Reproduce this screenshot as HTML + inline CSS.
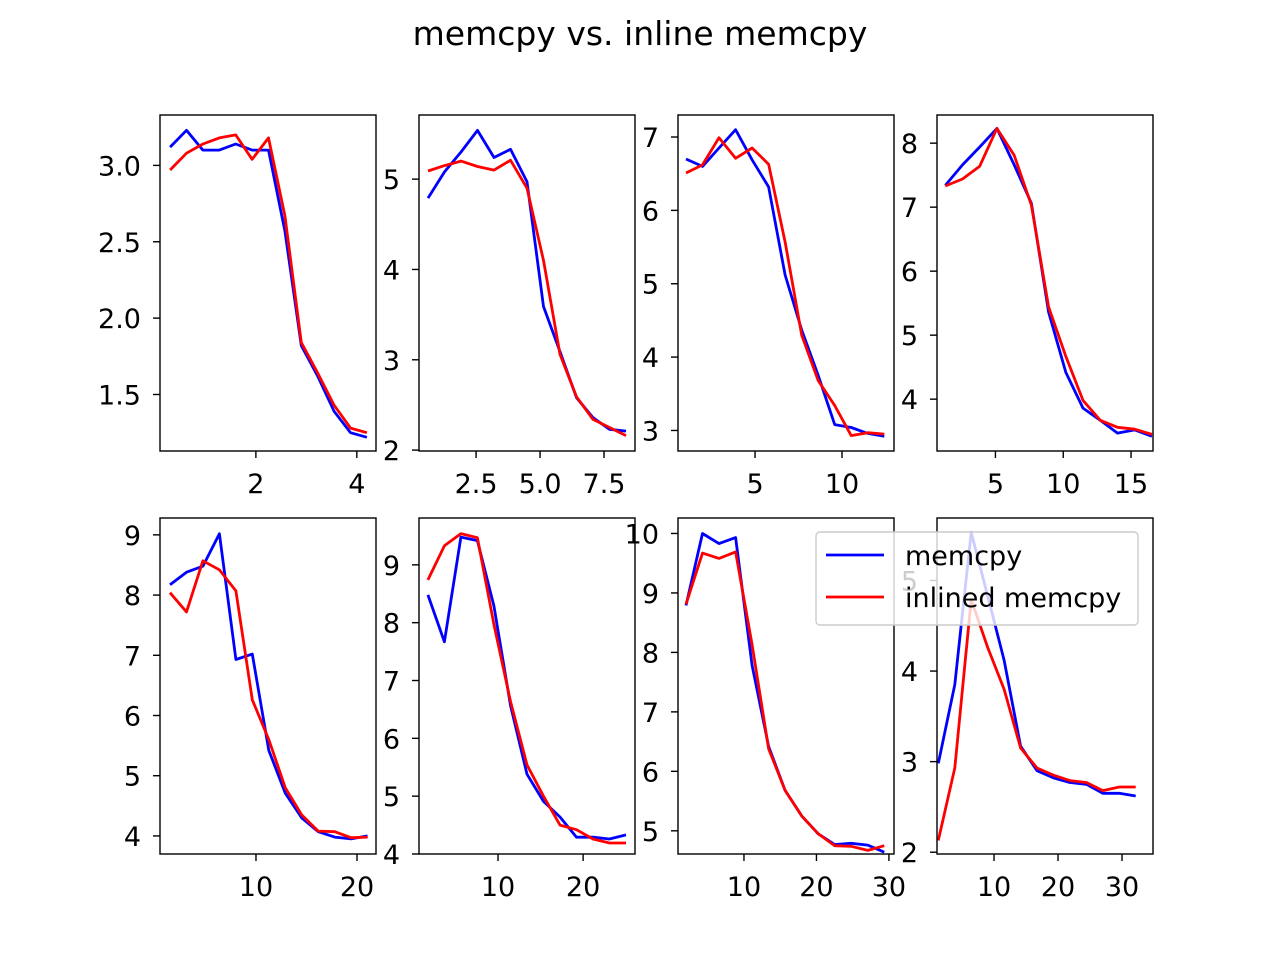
<!DOCTYPE html>
<html><head><meta charset="utf-8"><style>
body{margin:0;background:#fff;}
svg{display:block;font-family:"DejaVu Sans","Liberation Sans",sans-serif;}
</style></head><body>
<svg id="fig" width="1280" height="960" viewBox="0 0 1280 960">
<rect width="1280" height="960" fill="#fff"/>
<text x="640" y="45" text-anchor="middle" font-size="33">memcpy vs. inline memcpy</text>
</svg>
<script>
const xs1=[0.3,0.625,0.95,1.275,1.6,1.925,2.25,2.575,2.9,3.225,3.55,3.875,4.2];
const b1=[3.12,3.23,3.10,3.10,3.14,3.10,3.10,2.57,1.82,1.62,1.39,1.25,1.22];
const r1=[2.97,3.08,3.14,3.18,3.20,3.04,3.18,2.67,1.84,1.64,1.43,1.28,1.25];
const xs2=[0.62,1.265,1.91,2.555,3.2,3.845,4.49,5.135,5.78,6.425,7.07,7.715,8.36];
const b2=[4.79,5.08,5.30,5.54,5.24,5.33,4.97,3.59,3.09,2.58,2.36,2.23,2.21];
const r2=[5.09,5.15,5.20,5.14,5.10,5.21,4.90,4.10,3.06,2.59,2.34,2.25,2.16];
const xs3=[1.03,1.98,2.93,3.88,4.83,5.78,6.73,7.68,8.63,9.58,10.53,11.48,12.43];
const b3=[6.70,6.60,6.85,7.10,6.69,6.32,5.12,4.37,3.75,3.08,3.04,2.96,2.92];
const r3=[6.51,6.62,6.99,6.71,6.85,6.63,5.57,4.30,3.68,3.34,2.93,2.97,2.95];
const xs4=[1.3,2.57,3.84,5.11,6.38,7.65,8.92,10.19,11.46,12.73,14.0,15.27,16.54];
const b4=[7.34,7.66,7.94,8.23,7.66,7.06,5.36,4.42,3.86,3.67,3.47,3.52,3.42];
const r4=[7.33,7.44,7.64,8.23,7.81,7.03,5.44,4.67,3.98,3.67,3.56,3.53,3.45];
const xs5=[1.49,3.12,4.75,6.38,8.01,9.64,11.27,12.9,14.53,16.16,17.79,19.42,21.05];
const b5=[8.17,8.38,8.48,9.02,6.93,7.02,5.42,4.71,4.30,4.07,3.98,3.95,4.00];
const r5=[8.04,7.72,8.57,8.42,8.07,6.26,5.60,4.80,4.35,4.08,4.07,3.97,3.98];
const xs6=[1.76,3.7,5.64,7.58,9.52,11.46,13.4,15.34,17.28,19.22,21.16,23.1,25.04];
const b6=[8.48,7.67,9.48,9.42,8.29,6.57,5.38,4.91,4.64,4.29,4.29,4.26,4.33];
const r6=[8.74,9.33,9.54,9.47,7.97,6.64,5.54,5.00,4.50,4.42,4.26,4.19,4.19];
const xs7=[2.0,4.28,6.56,8.84,11.12,13.4,15.68,17.96,20.24,22.52,24.8,27.08,29.36];
const b7=[8.79,10.0,9.83,9.93,7.78,6.42,5.68,5.25,4.95,4.77,4.79,4.76,4.64];
const r7=[8.81,9.67,9.58,9.69,8.13,6.38,5.68,5.25,4.95,4.75,4.74,4.67,4.75];
const xs8=[1.3,3.87,6.44,9.01,11.58,14.15,16.72,19.29,21.86,24.43,27.0,29.57,32.14];
const b8=[2.98,3.85,5.53,4.83,4.12,3.17,2.90,2.82,2.77,2.75,2.65,2.65,2.62];
const r8=[2.13,2.93,4.79,4.26,3.80,3.15,2.93,2.85,2.79,2.77,2.68,2.72,2.72];
const xt1=[2,4],yt1=[1.5,2.0,2.5,3.0];
const xt2=[2.5,5.0,7.5],yt2=[2,3,4,5];
const xt3=[5,10],yt3=[3,4,5,6,7];
const xt4=[5,10,15],yt4=[4,5,6,7,8];
const xt5=[10,20],yt5=[4,5,6,7,8,9];
const xt6=[10,20],yt6=[4,5,6,7,8,9];
const xt7=[10,20,30],yt7=[5,6,7,8,9,10];
const xt8=[10,20,30],yt8=[2,3,4,5];

const NS="http://www.w3.org/2000/svg";
const svg=document.getElementById('fig');
function mk(t,a,p){const e=document.createElementNS(NS,t);for(const k in a)e.setAttribute(k,a[k]);(p||svg).appendChild(e);return e;}
const panels=[
 {L:160,T:115,x0:0.1,x1:4.38,y0:1.13,y1:3.33,xs:xs1,b:b1,r:r1,xt:xt1,yt:yt1,yd:1},
 {L:419,T:115,x0:0.27,x1:8.71,y0:1.99,y1:5.71,xs:xs2,b:b2,r:r2,xt:xt2,yt:yt2,yd:0},
 {L:678,T:115,x0:0.57,x1:12.99,y0:2.72,y1:7.30,xs:xs3,b:b3,r:r3,xt:xt3,yt:yt3,yd:0},
 {L:937,T:115,x0:0.69,x1:16.62,y0:3.19,y1:8.44,xs:xs4,b:b4,r:r4,xt:xt4,yt:yt4,yd:0},
 {L:160,T:518,x0:0.5,x1:21.88,y0:3.70,y1:9.28,xs:xs5,b:b5,r:r5,xt:xt5,yt:yt5,yd:0},
 {L:419,T:518,x0:0.71,x1:26.1,y0:4.0,y1:9.81,xs:xs6,b:b6,r:r6,xt:xt6,yt:yt6,yd:0},
 {L:678,T:518,x0:0.9,x1:30.7,y0:4.61,y1:10.26,xs:xs7,b:b7,r:r7,xt:xt7,yt:yt7,yd:0},
 {L:937,T:518,x0:1.09,x1:34.84,y0:1.98,y1:5.69,xs:xs8,b:b8,r:r8,xt:xt8,yt:yt8,yd:0}
];
const W=216,H=336;
panels.forEach((p,i)=>{
 const g=mk('g',{});
 
 
 const sx=v=>p.L+(v-p.x0)/(p.x1-p.x0)*W;
 const sy=v=>p.T+H-(v-p.y0)/(p.y1-p.y0)*H;
 const cp='cp'+i;
 const c=mk('clipPath',{id:cp},g);mk('rect',{x:p.L,y:p.T,width:W,height:H},c);
 [[p.b,'#0000ff','memcpy'],[p.r,'#ff0000','inlined-memcpy']].forEach(([ser,col,nm])=>{
  const pts=ser.map((v,k)=>sx(p.xs[k]).toFixed(1)+','+sy(v).toFixed(1)).join(' ');
  const l=mk('polyline',{points:pts,fill:'none',stroke:col,'stroke-width':2.8,'stroke-linejoin':'round','clip-path':'url(#'+cp+')'},g);
  
  
 });
 const fr=mk('rect',{x:p.L,y:p.T,width:W,height:H,fill:'none',stroke:'#000','stroke-width':1.4},g);
 
 
 const dec=p.xt.some(u=>u%1);
 p.xt.forEach(v=>{const x=sx(v);mk('line',{x1:x,x2:x,y1:p.T+H,y2:p.T+H+7,stroke:'#000','stroke-width':1.4},g);
  const t=mk('text',{x:x,y:p.T+H+42,'text-anchor':'middle','font-size':27},g);t.textContent=dec?v.toFixed(1):String(v);
  
  });
 p.yt.forEach(v=>{const y=sy(v);mk('line',{x1:p.L-7,x2:p.L,y1:y,y2:y,stroke:'#000','stroke-width':1.4},g);
  const t=mk('text',{x:p.L-19,y:y+10,'text-anchor':'end','font-size':27},g);t.textContent=p.yd?v.toFixed(1):String(v);
  
  });
});
const lg=mk('g',{});


mk('rect',{x:816,y:532,width:322,height:93,rx:4,fill:'#fff','fill-opacity':0.8,stroke:'#ccc','stroke-width':1.4},lg);
mk('line',{x1:826,x2:884,y1:555,y2:555,stroke:'#0000ff','stroke-width':2.8},lg);
mk('line',{x1:826,x2:884,y1:597,y2:597,stroke:'#ff0000','stroke-width':2.8},lg);
const t1=mk('text',{x:905,y:565,'font-size':27},lg);t1.textContent='memcpy';


const t2=mk('text',{x:905,y:607,'font-size':27},lg);t2.textContent='inlined memcpy';


</script>
</body></html>
